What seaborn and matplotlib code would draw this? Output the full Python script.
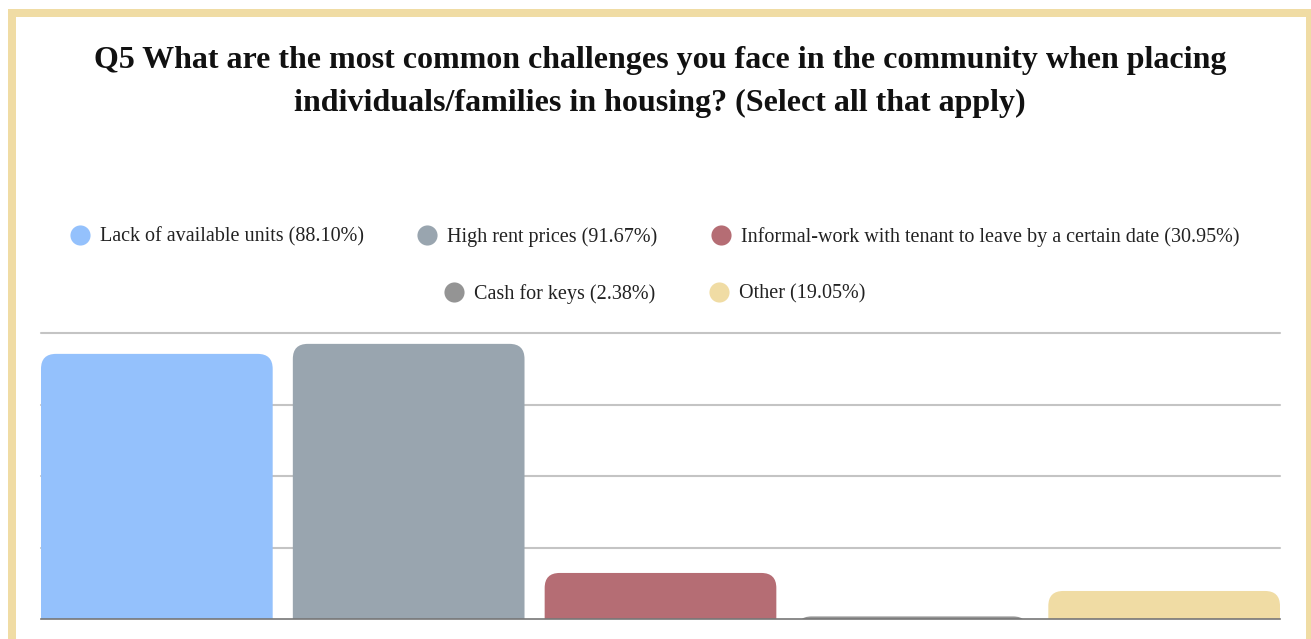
import matplotlib
matplotlib.use('Agg')
import matplotlib.pyplot as plt
import seaborn as sns
import pandas as pd
from matplotlib.patches import FancyBboxPatch, Rectangle
from matplotlib.lines import Line2D

# ---- data ----
categories = ["Lack of available units", "High rent prices",
              "Informal-work with tenant to leave by a certain date",
              "Cash for keys", "Other"]
legend_pcts = ["88.10%", "91.67%", "30.95%", "2.38%", "19.05%"]
bar_heights = [92.7, 96.2, 16.1, 0.9, 9.8]   # plotted heights
colors = ["#94c1fc", "#99a5af", "#b56d74", "#949494", "#f0dca4"]
title = ("Q5 What are the most common challenges you face in the community when placing\n"
         "individuals/families in housing? (Select all that apply)")

sns.set_theme(style="white")
plt.rcParams['font.family'] = ['Liberation Serif', 'DejaVu Serif']

W, H = 1311, 639
fig = plt.figure(figsize=(W / 100, H / 100), dpi=100)
fig.patch.set_facecolor("white")

# frame
frame = Rectangle((12 / W, -30 / H), (1310 - 12) / W, (H - 13 + 30) / H,
                  transform=fig.transFigure, fill=False, ec="#f0dca4", lw=8 * 0.72)
fig.patches.append(frame)

ax = fig.add_axes([41 / W, (H - 619) / H, (1280 - 41) / W, (619 - 333) / H])
df = pd.DataFrame({"cat": categories, "val": bar_heights})
sns.barplot(data=df, x="cat", y="val", hue="cat", palette=colors, width=0.92,
            legend=False, ax=ax, saturation=1)
ax.set_xlim(-0.46, 4.46)
ax.set_ylim(0, 100)
ax.set_yticks([25, 50, 75, 100])
ax.yaxis.grid(True, color="#c4c4c4", lw=1.5)
for gl in ax.get_ygridlines():
    gl.set_clip_on(False)
ax.set_axisbelow(True)
for s in ["left", "right", "top"]:
    ax.spines[s].set_visible(False)
ax.spines["bottom"].set_color("#777777")
ax.spines["bottom"].set_linewidth(1.2)
ax.tick_params(left=False, bottom=False, labelleft=False, labelbottom=False)
ax.set_xlabel("")
ax.set_ylabel("")
ax.set_facecolor("white")

# rounded top corners
fig.canvas.draw()
p0 = ax.transData.transform((0, 0))
p1 = ax.transData.transform((1, 1))
px_x = p1[0] - p0[0]
px_y = p1[1] - p0[1]
r_px = 15
r_x = r_px / px_x
aspect = (r_px / px_y) / r_x
for p in list(ax.patches):
    x, w, h = p.get_x(), p.get_width(), p.get_height()
    fc = p.get_facecolor()
    p.remove()
    fb = FancyBboxPatch((x, -40), w, h + 40,
                        boxstyle=f"round,pad=0,rounding_size={r_x}",
                        mutation_aspect=aspect, fc=fc, ec="none", zorder=2)
    ax.add_patch(fb)
    fb.set_clip_path(ax.patch)

# title
fig.text(660 / W, 1 - 82 / H, title, ha="center", va="center", fontsize=23,
         fontweight="bold", color="#111111", linespacing=1.6)

# legends
def make_handles(idx):
    hs = [Line2D([], [], marker="o", ls="", markersize=14.5, color=colors[i],
                 markeredgewidth=0) for i in idx]
    ls = [f"{categories[i]} ({legend_pcts[i]})" for i in idx]
    return hs, ls

for idx, yc in [([0, 1, 2], 237), ([3, 4], 294)]:
    hs, ls = make_handles(idx)
    fig.legend(hs, ls, loc="center", bbox_to_anchor=(655 / W, 1 - yc / H),
               ncol=len(idx), frameon=False, fontsize=14.5, handlelength=0.9,
               handletextpad=0.55, columnspacing=2.7, labelcolor="#222222")

fig.savefig("out.png", dpi=100, facecolor="white")
